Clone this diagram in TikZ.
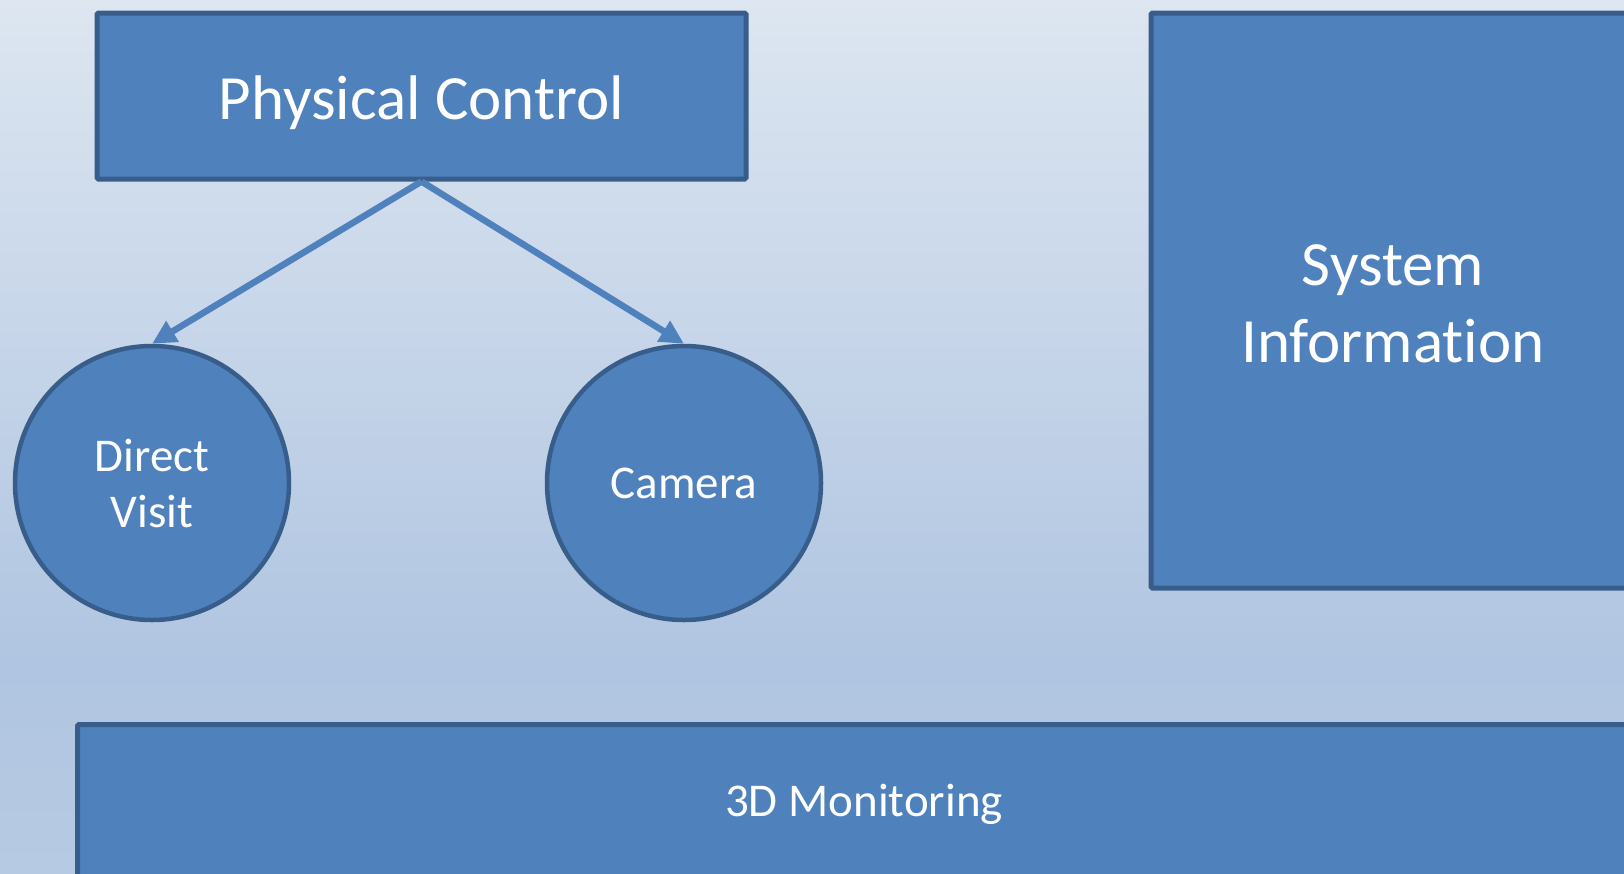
\documentclass[tikz,border=0pt]{standalone}
\usepackage{fontspec}
\setmainfont{Carlito}[Ligatures=NoCommon]
\usetikzlibrary{arrows.meta}
\definecolor{bgtop}{HTML}{DDE6F1}
\definecolor{bgdark}{HTML}{B0C5E1}
\definecolor{bgbot}{HTML}{B7CAE3}
\definecolor{boxfill}{HTML}{4F81BD}
\definecolor{boxline}{HTML}{385D8A}
\pgfdeclareverticalshading{bgshade}{100bp}{color(0bp)=(bgbot); color(25bp)=(bgbot); color(37bp)=(bgdark); color(75bp)=(bgtop); color(100bp)=(bgtop)}
\newcommand{\lowertext}[2]{\raisebox{-#1}[\height][\depth]{#2}}
\tikzset{
  blockbox/.style={draw=boxline, fill=boxfill, line width=5pt, rectangle, rounded corners=1.5pt, text=white, align=center, inner sep=0pt},
  roundbox/.style={draw=boxline, fill=boxfill, line width=4.5pt, circle, text=white, align=center, inner sep=0pt, minimum size=274pt, font=\fontsize{47}{56}\selectfont},
  link/.style={draw=boxfill, line width=6.5pt, -{Triangle[length=24pt,width=23pt]}}
}
\begin{document}
\begin{tikzpicture}[x=1pt,y=-1pt]
\useasboundingbox (0,0) rectangle (1624,873);
\clip (0,0) rectangle (1624,873);
\shade[shading=bgshade] (0,0) rectangle (1624,873);
\node[blockbox, minimum width=649pt, minimum height=166pt, font=\fontsize{63}{77}\selectfont] (pc) at (421.5,96) {\lowertext{7pt}{Physical Control}};
\node[blockbox, minimum width=484pt, minimum height=575pt, font=\fontsize{63}{77}\selectfont] (si) at (1393,300.5) {\lowertext{8pt}{\begin{tabular}{@{}c@{}}System\\Information\end{tabular}}};
\node[blockbox, minimum width=1573pt, minimum height=152.5pt, font=\fontsize{47}{56}\selectfont] (mon) at (864,800.75) {\lowertext{4pt}{3D Monitoring}};
\node[roundbox] (dv) at (152,483) {Direct\\Visit};
\node[roundbox] (cam) at (684,483) {Camera};
\draw[link] (pc.south) -- (dv.north);
\draw[link] (pc.south) -- (cam.north);
\end{tikzpicture}
\end{document}
